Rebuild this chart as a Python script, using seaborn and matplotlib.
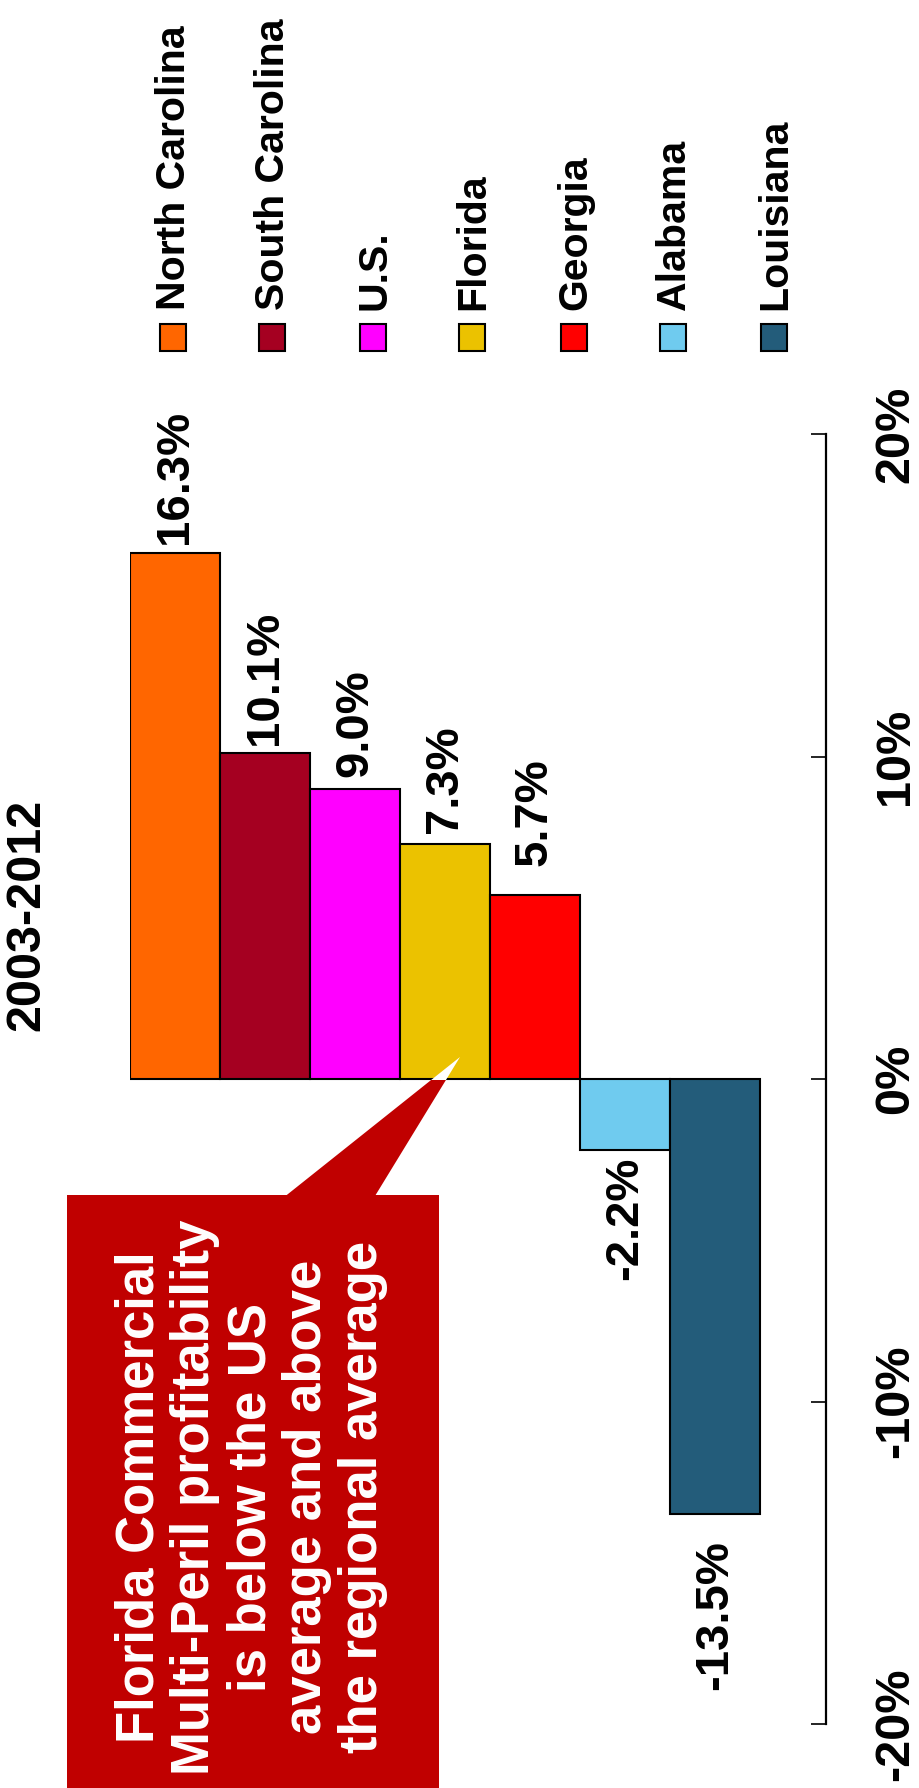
import matplotlib
matplotlib.use("Agg")
import matplotlib.pyplot as plt
from matplotlib.patches import Rectangle, Polygon
import seaborn as sns
import pandas as pd

# ---- data ----
states = ["North Carolina", "South Carolina", "U.S.", "Florida", "Georgia", "Alabama", "Louisiana"]
values = [16.3, 10.1, 9.0, 7.3, 5.7, -2.2, -13.5]
colors = ["#FF6600", "#A50021", "#FF00FF", "#EBC200", "#FF0000", "#6FCBEF", "#235C7A"]
value_labels = ["16.3%", "10.1%", "9.0%", "7.3%", "5.7%", "-2.2%", "-13.5%"]
tick_values = [-20, -10, 0, 10, 20]
tick_labels = ["-20%", "-10%", "0%", "10%", "20%"]
title = "2003-2012"
callout = ("Florida Commercial\nMulti-Peril profitability\nis below the US\n"
           "average and above\nthe regional average")

# layout-only tweaks (pixel gaps between bar end and its label)
label_gap_px = [11, 10, 13, 12, 31, 8, 27]

W, H = 919, 1788
sns.set_theme(style="white")
plt.rcParams["font.family"] = ["Liberation Sans", "DejaVu Sans"]

fig = plt.figure(figsize=(W / 100, H / 100), dpi=100)
fig.patch.set_facecolor("white")


def fx(x):
    return x / W


def fy(y):
    return 1 - y / H


ax = fig.add_axes([fx(130.3), fy(1724), (826 - 130.3) / W, (1724 - 434) / H])

df = pd.DataFrame({"state": states, "value": values})
sns.barplot(data=df, x="state", y="value", hue="state", palette=colors,
            order=states, hue_order=states, width=1.0, dodge=False,
            saturation=1, edgecolor="black", linewidth=1.5, legend=False,
            ax=ax, zorder=2)

ax.set_xlim(-0.5, 7.238)
ax.set_ylim(-20, 20)
ax.set_xlabel("")
ax.set_ylabel("")
ax.set_xticks([])
for s in ["top", "left", "bottom"]:
    ax.spines[s].set_visible(False)
ax.spines["right"].set_visible(True)
ax.spines["right"].set_color("black")
ax.spines["right"].set_linewidth(1.6)
ax.set_facecolor("white")
ax.grid(False)

ax.yaxis.tick_right()
ax.set_yticks(tick_values)
ax.set_yticklabels(tick_labels)
ax.tick_params(axis="y", direction="in", length=11, width=1.2, color="black",
               pad=34, labelsize=35, right=True, left=False)
for lab in ax.get_yticklabels():
    lab.set_rotation(90)
    lab.set_va("center")
    lab.set_fontweight("bold")
    lab.set_color("black")

# value labels
for i, (v, t) in enumerate(zip(values, value_labels)):
    off = label_gap_px[i] * 0.72 - 1
    if v >= 0:
        ax.annotate(t, xy=(i, v), xytext=(0, off), textcoords="offset points",
                    rotation=90, ha="center", va="bottom", fontsize=34,
                    fontweight="bold", color="black", zorder=5)
    else:
        ax.annotate(t, xy=(i, v), xytext=(0, -off), textcoords="offset points",
                    rotation=90, ha="center", va="top", fontsize=34,
                    fontweight="bold", color="black", zorder=5)

# title
fig.text(fx(27), fy(915), title, rotation=90, ha="center", va="center",
         fontsize=35, fontweight="bold", color="black")

# legend (rotated, drawn manually)
leg_x0 = [160, 259, 360, 459, 561, 660, 761]
for x0, name, c in zip(leg_x0, states, colors):
    fig.add_artist(Rectangle((fx(x0), fy(351)), 26 / W, 27 / H,
                             transform=fig.transFigure, facecolor=c,
                             edgecolor="black", linewidth=1.5))
    fig.text(fx(x0 + 14), fy(310), name, rotation=90, ha="center", va="bottom",
             fontsize=29.5, fontweight="bold", color="black")

# callout box with pointer
red = "#C00000"
fig.add_artist(Rectangle((fx(67), fy(1800)), (439 - 67) / W, (1800 - 1195) / H,
                         transform=fig.transFigure, facecolor=red,
                         edgecolor="none", zorder=6))
tri = [(fx(285.5), fy(1196)), (fx(460), fy(1057)), (fx(375), fy(1196))]
red_tri = Polygon(tri, closed=True, transform=fig.transFigure,
                  facecolor=red, edgecolor="none", zorder=6)
fig.add_artist(red_tri)
clip_low = Rectangle((0, 0), 1, fy(1079.5), transform=fig.transFigure)
red_tri.set_clip_path(clip_low)
white_tri = Polygon(tri, closed=True, transform=fig.transFigure,
                    facecolor="white", edgecolor="none", zorder=6)
fig.add_artist(white_tri)
clip_high = Rectangle((0, fy(1079.5)), 1, 1 - fy(1079.5), transform=fig.transFigure)
white_tri.set_clip_path(clip_high)

fig.text(fx(251), fy(1497), callout, rotation=90, ha="center", va="center",
         multialignment="center", fontsize=38, fontweight="bold",
         color="white", linespacing=1.15, zorder=7)

fig.savefig("out.png", dpi=100, facecolor="white")
